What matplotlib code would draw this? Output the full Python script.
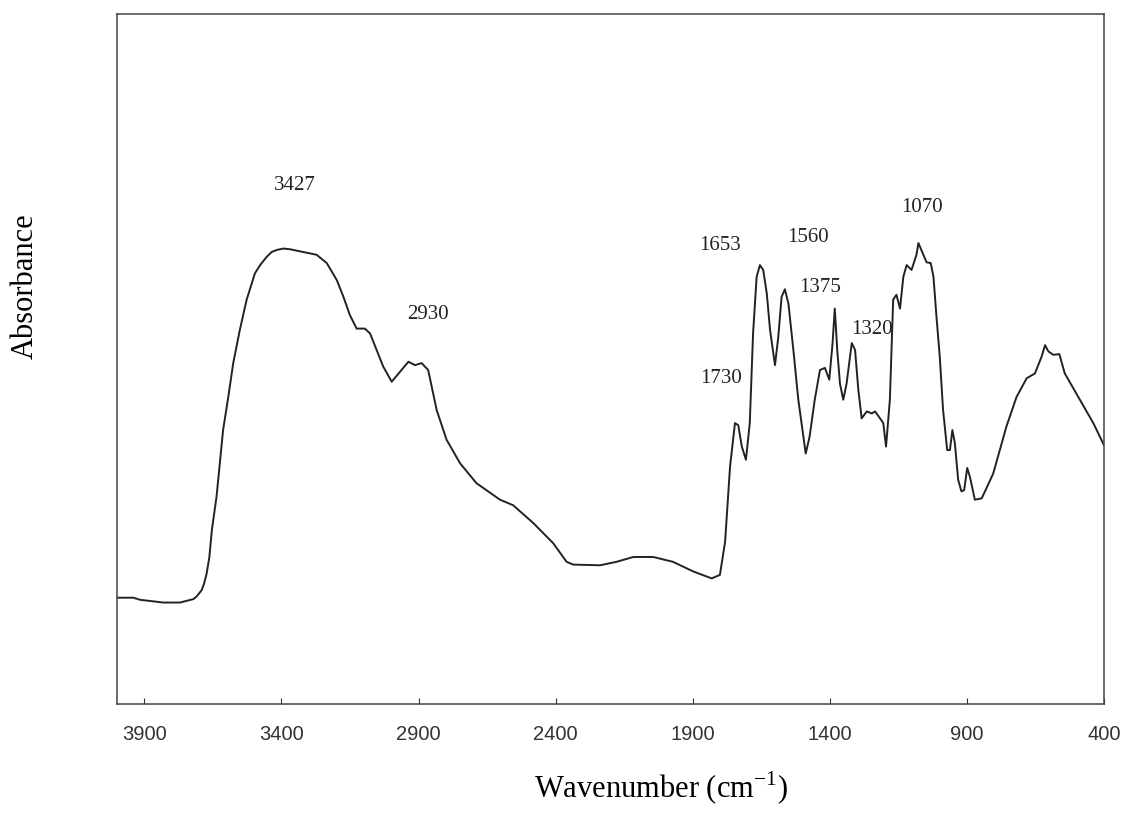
import matplotlib.pyplot as plt

# FTIR spectrum (wavenumber in cm-1, absorbance in arbitrary units)
wavenumber = [4000, 3940, 3916, 3831, 3770, 3721, 3709, 3691, 3682, 3673, 3663, 3654, 3637,
              3613, 3594, 3576, 3552, 3527, 3497, 3478, 3454, 3436, 3417, 3393, 3369, 3333,
              3272, 3235, 3217, 3198, 3174,
              3151, 3126, 3096, 3077, 3053, 3029, 2998, 2937, 2913, 2889, 2865, 2834,
              2798, 2749, 2689, 2603, 2555, 2481, 2409, 2360, 2336, 2238, 2178, 2117,
              2044, 1972, 1898, 1831, 1801, 1782, 1764, 1746, 1734, 1721, 1706, 1692,
              1680, 1667, 1655, 1643, 1630, 1618, 1600, 1588, 1576, 1564, 1551, 1533,
              1515, 1488, 1474, 1455, 1436, 1418, 1402, 1390, 1382, 1373, 1363, 1351,
              1339, 1320, 1308, 1296, 1284, 1265, 1247, 1235, 1217, 1205, 1195, 1181,
              1169, 1157, 1144, 1132, 1120, 1102, 1084, 1077, 1059, 1047, 1032, 1022,
              1011, 999, 987, 972, 962, 953, 944, 932, 920, 910, 899, 889,
              871, 846, 804, 756, 719, 682, 652, 628, 615, 603, 585, 563,
              543, 488, 439, 400]
absorbance = [0.154, 0.154, 0.151, 0.147, 0.147, 0.152, 0.156, 0.165, 0.175, 0.189, 0.213, 0.252, 0.300,
              0.397, 0.445, 0.494, 0.542, 0.586, 0.624, 0.636, 0.648, 0.655, 0.658, 0.660, 0.659, 0.656,
              0.651, 0.639, 0.627, 0.614, 0.590,
              0.564, 0.544, 0.544, 0.537, 0.513, 0.489, 0.467, 0.496, 0.491, 0.494, 0.484, 0.426,
              0.383, 0.349, 0.320, 0.296, 0.288, 0.262, 0.233, 0.206, 0.202, 0.201, 0.206, 0.213,
              0.213, 0.206, 0.192, 0.182, 0.187, 0.235, 0.344, 0.407, 0.404, 0.373, 0.354, 0.407,
              0.537, 0.619, 0.636, 0.629, 0.595, 0.542, 0.491, 0.532, 0.590, 0.601, 0.580, 0.513,
              0.441, 0.363, 0.387, 0.441, 0.484, 0.487, 0.470, 0.523, 0.573, 0.513, 0.464, 0.441,
              0.464, 0.523, 0.513, 0.455, 0.414, 0.424, 0.421, 0.424, 0.414, 0.407, 0.373, 0.441,
              0.586, 0.593, 0.573, 0.619, 0.636, 0.629, 0.651, 0.668, 0.651, 0.640, 0.639, 0.619,
              0.561, 0.503, 0.426, 0.368, 0.368, 0.397, 0.378, 0.325, 0.308, 0.310, 0.342, 0.329,
              0.296, 0.298, 0.334, 0.402, 0.445, 0.472, 0.479, 0.503, 0.520, 0.511, 0.506, 0.507,
              0.479, 0.441, 0.407, 0.375]

# peak labels and where they sit
peak_labels = ['3427', '2930', '1730', '1653', '1560', '1375', '1320', '1070']
label_x = [3351, 2865, 1795, 1801, 1479, 1436, 1248, 1065]
label_y = [0.751, 0.564, 0.471, 0.664, 0.676, 0.604, 0.542, 0.720]

xticks = [3900, 3400, 2900, 2400, 1900, 1400, 900, 400]

fig = plt.figure(figsize=(11.27, 8.25), dpi=100)
ax = fig.add_axes([0.1038, 0.1467, 0.8758, 0.8364])

ax.plot(wavenumber, absorbance, color='#222222', linewidth=1.4,
        solid_joinstyle='round')

for lab, x, y in zip(peak_labels, label_x, label_y):
    ax.text(x, y, lab, ha='center', va='center', fontsize=15,
            family='Liberation Serif', color='#222222')

ax.set_xlim(4000, 400)
ax.set_ylim(0, 1)
ax.set_xticks(xticks)
ax.set_xticklabels([str(t) for t in xticks], family='Liberation Sans', fontsize=14.5)
ax.set_yticks([])
ax.tick_params(axis='x', direction='in', length=4, pad=15, colors='#333333')

for s in ax.spines.values():
    s.set_color('#444444')
    s.set_linewidth(1.1)

ax.set_xlabel(r'Wavenumber (cm$^{\mathregular{-1}}$)', family='Liberation Serif', fontsize=22)
ax.set_ylabel('Absorbance', family='Liberation Serif', fontsize=22)
ax.xaxis.set_label_coords(0.551, -0.096)
ax.yaxis.set_label_coords(-0.078, 0.606)

fig.savefig('out.png', dpi=100)
